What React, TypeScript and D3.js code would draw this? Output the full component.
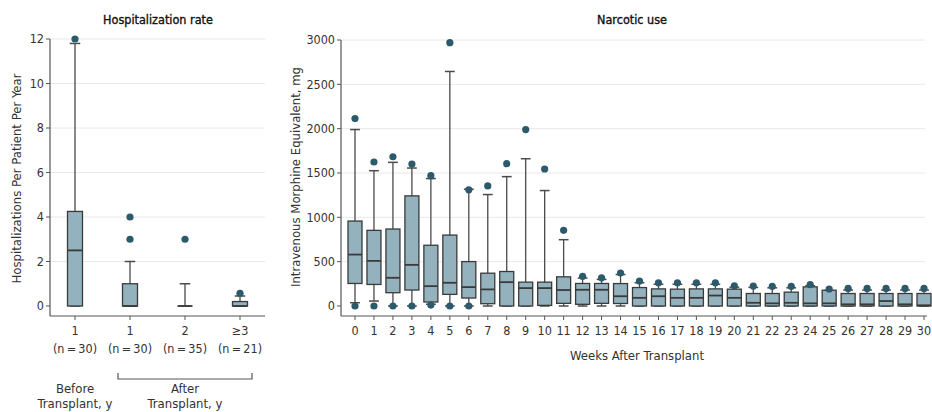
import React from 'react';
import * as d3 from 'd3';

// Hospitalization rate panel
const hospCategories = ['1', '1', '2', '≥3'];
const hospCounts = ['(n\u2009=\u200930)', '(n\u2009=\u200930)', '(n\u2009=\u200935)', '(n\u2009=\u200921)'];
const hospQ1 = [0, 0, 0, 0];
const hospMedian = [2.5, 0, 0, 0];
const hospQ3 = [4.25, 1, 0, 0.2];
const hospLow = [0, 0, 0, 0];
const hospHigh = [11.8, 2, 1, 0.45];
const hospOutliers = [[12], [3, 4], [3], [0.57]];
const hospTicks = [0, 2, 4, 6, 8, 10, 12];

// Narcotic use panel (weeks 0..30)
const weeks = d3.range(0, 31).map(String);
const narcQ1 = [254, 243, 150, 180, 45, 131, 90, 26, 0, 0, 7, 30, 19, 30, 28, 0, 0, 0, 0, 0, 0, 0, 0, 0, 0, 0, 0, 0, 0, 0, 0];
const narcMedian = [580, 509, 318, 464, 224, 262, 213, 187, 269, 202, 202, 180, 183, 183, 110, 92, 110, 92, 92, 118, 92, 36, 30, 36, 30, 30, 19, 19, 56, 19, 8];
const narcQ3 = [958, 853, 868, 1242, 685, 800, 501, 370, 389, 269, 269, 329, 254, 254, 253, 208, 193, 190, 193, 193, 190, 141, 141, 156, 216, 178, 141, 141, 141, 141, 141];
const narcLow = [37, 56, 0, 0, 20, 0, 0, 0, 0, 0, 0, 0, 0, 0, 0, 0, 0, 0, 0, 0, 0, 0, 0, 0, 0, 0, 0, 0, 0, 0, 0];
const narcHigh = [1990, 1526, 1620, 1556, 1437, 2645, 1317, 1257, 1459, 1661, 1302, 748, 315, 300, 355, 262, 245, 245, 245, 245, 212, 210, 205, 205, 228, 175, 180, 180, 180, 180, 180];
const narcOutliers = [
  [0, 2114], [0, 1624], [0, 1683], [0, 1601], [10, 1470], [0, 2970], [0, 1310], [1354], [1605], [1990], [1545], [853],
  [335], [318], [372], [282], [262], [262], [262], [262], [228], [225], [222], [222], [242], [192], [198], [198], [198], [198], [198],
];
const narcTicks = [0, 500, 1000, 1500, 2000, 2500, 3000];

const FONT = "'DejaVu Sans Condensed', 'Liberation Sans Narrow', 'DejaVu Sans', sans-serif";
const BOX_FILL = '#93b2be';
const BOX_STROKE = '#3a3a3a';
const WHISKER = '#4a4a4a';
const DOT = '#2c5a6a';
const GRID = '#e8e8e8';
const TEXT = '#333';

type BoxProps = {
  x: number; y: (v: number) => number; q1: number; med: number; q3: number;
  lo: number; hi: number; out: number[]; bw: number;
};

const Box = ({ x, y, q1, med, q3, lo, hi, out, bw }: BoxProps) => {
  const cap = bw * 0.7;
  return (
    <g>
      <line x1={x} x2={x} y1={y(q3)} y2={y(hi)} stroke={WHISKER} strokeWidth={1.3} />
      <line x1={x} x2={x} y1={y(q1)} y2={y(lo)} stroke={WHISKER} strokeWidth={1.3} />
      <line x1={x - cap / 2} x2={x + cap / 2} y1={y(hi)} y2={y(hi)} stroke={WHISKER} strokeWidth={1.5} />
      <line x1={x - cap / 2} x2={x + cap / 2} y1={y(lo)} y2={y(lo)} stroke={WHISKER} strokeWidth={1.5} />
      <rect x={x - bw / 2} y={y(q3)} width={bw} height={Math.max(0, y(q1) - y(q3))}
        fill={BOX_FILL} stroke={BOX_STROKE} strokeWidth={1.3} />
      <line x1={x - bw / 2} x2={x + bw / 2} y1={y(med)} y2={y(med)} stroke={BOX_STROKE} strokeWidth={1.8} />
      {out.map((o, i) => (
        <circle key={i} cx={x} cy={y(o)} r={3.6} fill={DOT} />
      ))}
    </g>
  );
};

const App = () => {
  // left panel scales
  const hx = d3.scalePoint<number>().domain(d3.range(4)).range([75, 240]);
  const hy = d3.scaleLinear().domain([0, 12]).range([306, 39]);
  // right panel scales
  const nx = d3.scalePoint<string>().domain(weeks).range([355, 924]);
  const ny = d3.scaleLinear().domain([0, 3000]).range([306, 40]);

  const axisY = 316;
  const hLeft = 50, hRight = 265;
  const nLeft = 341, nRight = 927;
  const tickFs = 12.5;

  return (
    <svg width={932} height={412} style={{ position: 'absolute', left: 0, top: 0, fontFamily: FONT }}>
      <rect width={932} height={412} fill="#fff" />

      {/* ---------- Hospitalization rate ---------- */}
      <text x={158} y={24} textAnchor="middle" fontSize={12.5} fill="#111" stroke="#111" strokeWidth={0.35}>Hospitalization rate</text>
      {hospTicks.filter(t => t > 0).map(t => (
        <line key={t} x1={hLeft} x2={hRight} y1={hy(t)} y2={hy(t)} stroke={GRID} strokeWidth={1} />
      ))}
      <line x1={hLeft} x2={hLeft} y1={hy(12)} y2={axisY} stroke="#555" strokeWidth={1.2} />
      <line x1={hLeft} x2={hRight} y1={axisY} y2={axisY} stroke="#555" strokeWidth={1.2} />
      {hospTicks.map(t => (
        <g key={t}>
          <line x1={hLeft - 4} x2={hLeft} y1={hy(t)} y2={hy(t)} stroke="#555" />
          <text x={hLeft - 6} y={hy(t)} dy="0.35em" textAnchor="end" fontSize={tickFs} fill={TEXT}>{t}</text>
        </g>
      ))}
      <text transform={`translate(21,${hy(6) + 6}) rotate(-90)`} textAnchor="middle" fontSize={13} fill={TEXT}>
        Hospitalizations Per Patient Per Year
      </text>
      {hospCategories.map((c, i) => (
        <g key={i}>
          <line x1={hx(i)!} x2={hx(i)!} y1={axisY} y2={axisY + 4} stroke="#555" />
          <text x={hx(i)!} y={335} textAnchor="middle" fontSize={tickFs} fill={TEXT}>{c}</text>
          <text x={hx(i)!} y={353} textAnchor="middle" fontSize={tickFs} fill={TEXT}>{hospCounts[i]}</text>
          <Box x={hx(i)!} y={hy} q1={hospQ1[i]} med={hospMedian[i]} q3={hospQ3[i]}
            lo={hospLow[i]} hi={hospHigh[i]} out={hospOutliers[i]} bw={15} />
        </g>
      ))}
      <path d={`M${hx(1)! - 12},373 V379 H${hx(3)! + 12} V373`} fill="none" stroke="#555" strokeWidth={1.2} />
      <text x={hx(0)!} y={393} textAnchor="middle" fontSize={13} fill={TEXT}>Before</text>
      <text x={hx(0)!} y={408} textAnchor="middle" fontSize={13} fill={TEXT}>Transplant, y</text>
      <text x={hx(2)!} y={393} textAnchor="middle" fontSize={13} fill={TEXT}>After</text>
      <text x={hx(2)!} y={408} textAnchor="middle" fontSize={13} fill={TEXT}>Transplant, y</text>

      {/* ---------- Narcotic use ---------- */}
      <text x={632} y={24} textAnchor="middle" fontSize={12.5} fill="#111" stroke="#111" strokeWidth={0.35}>Narcotic use</text>
      {narcTicks.filter(t => t > 0).map(t => (
        <line key={t} x1={nLeft} x2={nRight - 2} y1={ny(t)} y2={ny(t)} stroke={GRID} strokeWidth={1} />
      ))}
      <line x1={nLeft} x2={nLeft} y1={ny(3000)} y2={axisY} stroke="#555" strokeWidth={1.2} />
      <line x1={nLeft} x2={nRight} y1={axisY} y2={axisY} stroke="#555" strokeWidth={1.2} />
      {narcTicks.map(t => (
        <g key={t}>
          <line x1={nLeft - 4} x2={nLeft} y1={ny(t)} y2={ny(t)} stroke="#555" />
          <text x={nLeft - 6} y={ny(t)} dy="0.35em" textAnchor="end" fontSize={tickFs} fill={TEXT}>{t}</text>
        </g>
      ))}
      <text transform={`translate(300,${ny(1500) + 4}) rotate(-90)`} textAnchor="middle" fontSize={13} fill={TEXT}>
        Intravenous Morphine Equivalent, mg
      </text>
      {weeks.map((w, i) => (
        <g key={w}>
          <line x1={nx(w)!} x2={nx(w)!} y1={axisY} y2={axisY + 4} stroke="#555" />
          <text x={nx(w)!} y={335} textAnchor="middle" fontSize={tickFs} fill={TEXT}>{w}</text>
          <Box x={nx(w)!} y={ny} q1={narcQ1[i]} med={narcMedian[i]} q3={narcQ3[i]}
            lo={narcLow[i]} hi={narcHigh[i]} out={narcOutliers[i]} bw={14} />
        </g>
      ))}
      <text x={637} y={360} textAnchor="middle" fontSize={13} fill={TEXT}>Weeks After Transplant</text>
    </svg>
  );
};

export default App;
